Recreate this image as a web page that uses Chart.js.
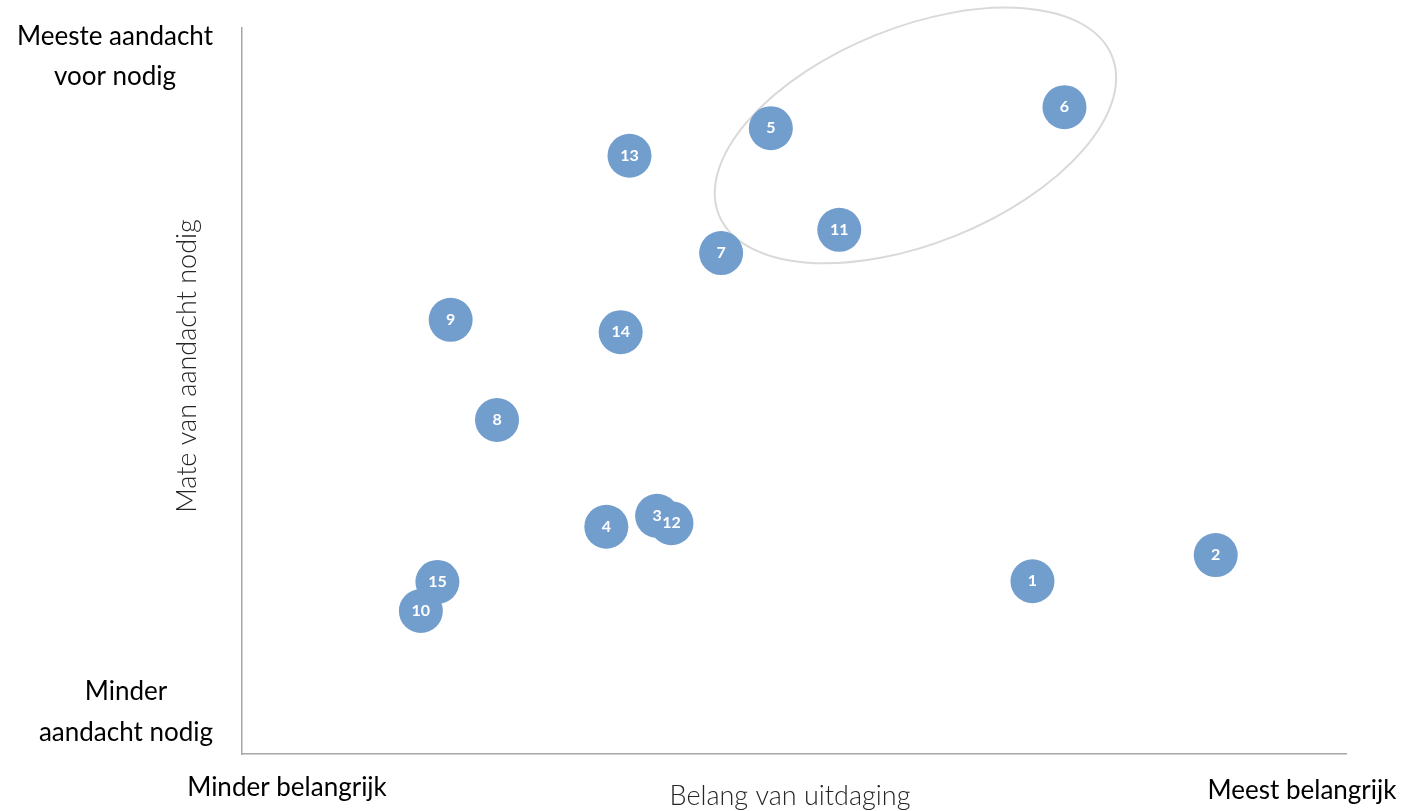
<!DOCTYPE html>
<html lang="nl">
<head>
<meta charset="utf-8">
<script src="https://cdn.jsdelivr.net/npm/chart.js@4/dist/chart.umd.min.js"></script>
<style>
  html, body { margin: 0; padding: 0; background: #ffffff; }
  #wrap { width: 1409px; height: 811px; }
</style>
</head>
<body>
<div id="wrap"><canvas id="matrix" width="1409" height="811"></canvas></div>
<script>
// Nummers van de uitdagingen
const labels = ['1', '2', '3', '4', '5', '6', '7', '8', '9', '10', '11', '12', '13', '14', '15'];
// Belang van uitdaging (x, schaal 0-10)
const belang = [7.16, 8.82, 3.76, 3.30, 4.79, 7.45, 4.34, 2.31, 1.89, 1.62, 5.41, 3.89, 3.51, 3.43, 1.77];
// Mate van aandacht nodig (y, schaal 0-10)
const aandacht = [2.38, 2.74, 3.28, 3.13, 8.62, 8.91, 6.90, 4.60, 5.98, 1.97, 7.22, 3.18, 8.24, 5.81, 2.37];

// Teksten langs de assen
const xTitel = 'Belang van uitdaging';
const yTitel = 'Mate van aandacht nodig';
const xLinks = 'Minder belangrijk';
const xRechts = 'Meest belangrijk';
const yBoven = ['Meeste aandacht', 'voor nodig'];
const yOnder = ['Minder', 'aandacht nodig'];

const fontFamily = 'Lato, "Open Sans", sans-serif';

// Plugin: teksten, ellips en nummers in de bellen
const tekstPlugin = {
  id: 'tekstPlugin',
  beforeDatasetsDraw(chart) {
    const { ctx, scales: { x, y } } = chart;
    // ellips rond de belangrijkste uitdagingen
    ctx.save();
    ctx.strokeStyle = '#d9d9d9';
    ctx.lineWidth = 2;
    ctx.beginPath();
    ctx.ellipse(x.getPixelForValue(6.10), y.getPixelForValue(8.52), 212, 108, -22 * Math.PI / 180, 0, Math.PI * 2);
    ctx.stroke();
    ctx.restore();
  },
  afterDatasetsDraw(chart) {
    const { ctx } = chart;
    const meta = chart.getDatasetMeta(0);
    ctx.save();
    ctx.fillStyle = '#ffffff';
    ctx.font = 'bold 16px ' + fontFamily;
    ctx.textAlign = 'center';
    ctx.textBaseline = 'middle';
    meta.data.forEach((punt, i) => {
      ctx.fillText(labels[i], punt.x, punt.y);
    });
    ctx.restore();
  },
  afterDraw(chart) {
    const { ctx } = chart;
    ctx.save();
    ctx.textAlign = 'center';
    ctx.textBaseline = 'middle';
    ctx.fillStyle = '#000000';
    ctx.font = '26px ' + fontFamily;
    ctx.fillText(yBoven[0], 115, 37);
    ctx.fillText(yBoven[1], 115, 77);
    ctx.fillText(yOnder[0], 126, 692);
    ctx.fillText(yOnder[1], 126, 733);
    ctx.fillText(xLinks, 287, 788);
    ctx.fillText(xRechts, 1302, 791);

    ctx.fillStyle = '#262626';
    ctx.font = '300 27px ' + fontFamily;
    ctx.fillText(xTitel, 790, 796);
    ctx.translate(187, 366);
    ctx.rotate(-Math.PI / 2);
    ctx.fillText(yTitel, 0, 0);
    ctx.restore();
  }
};

const ctx = document.getElementById('matrix').getContext('2d');

new Chart(ctx, {
  type: 'bubble',
  data: {
    datasets: [{
      label: 'Uitdagingen',
      data: belang.map((v, i) => ({ x: v, y: aandacht[i] })),
      backgroundColor: 'rgb(114, 158, 206)',
      borderColor: 'rgb(114, 158, 206)',
      borderWidth: 0,
      radius: 22
    }]
  },
  options: {
    responsive: false,
    animation: false,
    devicePixelRatio: 1,
    layout: {
      padding: { top: 28, right: 63, left: 0, bottom: 0 }
    },
    scales: {
      x: {
        min: 0,
        max: 10,
        grid: { display: false },
        border: { display: true, color: '#a6a6a6', width: 1.5 },
        ticks: { display: false },
        afterFit(scale) { scale.height = 57; }
      },
      y: {
        min: 0,
        max: 10,
        grid: { display: false },
        border: { display: true, color: '#a6a6a6', width: 1.5 },
        ticks: { display: false },
        afterFit(scale) { scale.width = 242; }
      }
    },
    plugins: {
      legend: { display: false },
      tooltip: { enabled: false }
    }
  },
  plugins: [tekstPlugin]
});
</script>
</body>
</html>
